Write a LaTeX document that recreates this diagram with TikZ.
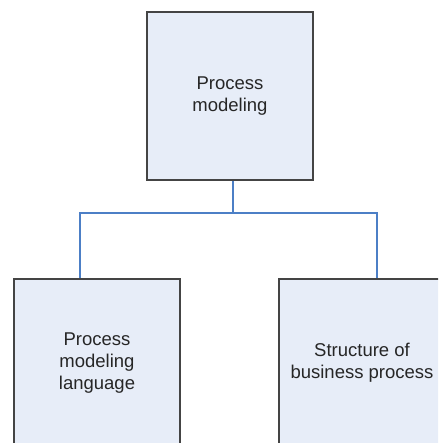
\documentclass[tikz,border=0pt]{standalone}
\usepackage{fontspec}
\setmainfont{Liberation Sans}
\usetikzlibrary{calc}
\definecolor{boxfill}{HTML}{E7EDF8}
\definecolor{boxline}{HTML}{444444}
\definecolor{linkblue}{HTML}{4C7FC6}
\definecolor{textgray}{HTML}{262626}
\tikzset{
  topicbox/.style={draw=boxline, line width=2pt, fill=boxfill,
    minimum width=166pt, minimum height=168pt, inner sep=0pt,
    align=center, text=textgray,
    font=\fontsize{18.5pt}{22pt}\selectfont},
  link/.style={draw=linkblue, line width=1.4pt}
}
\begin{document}
\begin{tikzpicture}[x=1pt, y=-1pt]
  \useasboundingbox (0,0) rectangle (438,443);
  \clip (0,0) rectangle (438,443);
  % the three topic boxes
  \node[topicbox] (root)  at (230,96)  {Process\\modeling};
  \node[topicbox] (lang)  at (97,363)  {Process\\modeling\\language};
  \node[topicbox] (struc) at (362,363) {Structure of\\business process};
  % tree connector
  \coordinate (fork) at (233,213);
  \draw[link] (root.south -| fork) -- (fork);
  \draw[link] ([xshift=-17pt]lang.north) |- (fork) -| ([xshift=15pt]struc.north);
\end{tikzpicture}
\end{document}
